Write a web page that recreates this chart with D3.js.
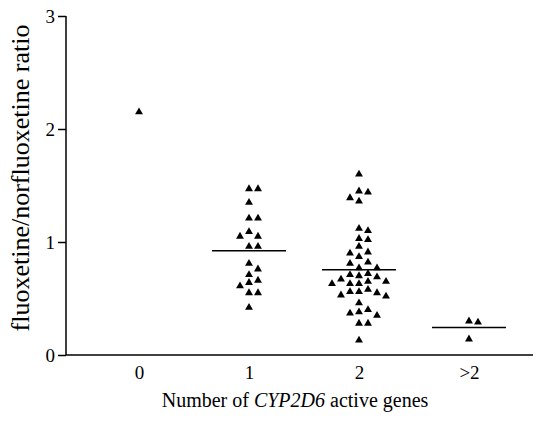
<!DOCTYPE html>
<html lang="en">
<head>
    <meta charset="utf-8">
    <title>Fluoxetine ratio by CYP2D6 genes</title>
    <style>
        body { margin: 0; background: #fff; }
        svg text { font-family: "Liberation Serif", "Times New Roman", serif; fill: #000; }
    </style>
</head>
<body>
    <div id="container"></div>

    <script src="https://cdn.jsdelivr.net/npm/d3@7"></script>
    <script>
        // Categories and values
        const categories = ["0", "1", "2", ">2"];
        const group0 = [2.15];
        const group1 = [1.47, 1.47, 1.35, 1.21, 1.21, 1.09, 1.05, 1.05, 0.96, 0.96,
                        0.81, 0.76, 0.71, 0.66, 0.64, 0.61, 0.55, 0.55, 0.42];
        const group2 = [1.60, 1.45, 1.44, 1.39, 1.36, 1.12, 1.10, 1.03, 1.02, 0.96,
                        0.91, 0.90, 0.87, 0.82, 0.81, 0.77, 0.77, 0.72, 0.71, 0.70,
                        0.69, 0.67, 0.65, 0.65, 0.63, 0.63, 0.63, 0.58, 0.56, 0.56,
                        0.55, 0.53, 0.52, 0.46, 0.40, 0.38, 0.37, 0.35, 0.28, 0.28, 0.13];
        const group3 = [0.30, 0.29, 0.14];
        const yTicks = [0, 1, 2, 3];

        const groups = [group0, group1, group2, group3];

        const width = 538;
        const height = 422;
        const axisLeft = 66;
        const axisRight = 533;
        const yTop = 16;
        const yBottom = 355;

        const svg = d3.select("#container").append("svg")
            .attr("width", width)
            .attr("height", height);

        const x = d3.scalePoint()
            .domain(categories)
            .range([139, 469]);

        const y = d3.scaleLinear()
            .domain([0, 3])
            .range([yBottom, yTop]);

        // y axis
        const yAxis = svg.append("g")
            .attr("transform", `translate(${axisLeft},0)`)
            .call(d3.axisLeft(y).tickValues(yTicks).tickFormat(d3.format("d")).tickSize(8).tickPadding(3))
            .attr("font-family", null)
            .attr("font-size", 19);
        yAxis.select(".domain").attr("d", `M0,${yTop}V${yBottom}`).attr("stroke-width", 1.5);
        yAxis.selectAll(".tick line").attr("stroke-width", 1.5);

        // x axis: a plain line with category labels, no ticks
        const xAxis = svg.append("g")
            .attr("transform", `translate(0,${yBottom})`)
            .call(d3.axisBottom(x).tickSize(0).tickPadding(11))
            .attr("font-family", null)
            .attr("font-size", 19);
        xAxis.select(".domain").attr("d", `M${axisLeft},0H${axisRight}`).attr("stroke-width", 1.5);

        // axis titles
        svg.append("text")
            .attr("transform", "rotate(-90)")
            .attr("x", -178)
            .attr("y", 29)
            .attr("text-anchor", "middle")
            .attr("font-size", 26)
            .text("fluoxetine/norfluoxetine ratio");

        const xTitle = svg.append("text")
            .attr("x", 295)
            .attr("y", 407)
            .attr("text-anchor", "middle")
            .attr("font-size", 20);
        xTitle.append("tspan").text("Number of ");
        xTitle.append("tspan").attr("font-style", "italic").text("CYP2D6");
        xTitle.append("tspan").text(" active genes");

        // simple dodge so overlapping triangles spread sideways
        const colStep = 9;
        const minGap = 7;
        const order = [0, 1, -1, 2, -2, 3, -3, 4, -4];

        function dodge(values) {
            const placed = [];
            values.slice().sort((a, b) => b - a).forEach(v => {
                const py = y(v);
                const col = order.find(c => !placed.some(p => p.col === c && Math.abs(p.py - py) < minGap));
                placed.push({ v, py, col });
            });
            return placed;
        }

        const triangle = d3.symbol().type(d3.symbolTriangle).size(27);

        groups.forEach((vals, i) => {
            const cx = x(categories[i]);
            const pts = dodge(vals);

            svg.append("g")
                .selectAll("path")
                .data(pts)
                .enter().append("path")
                .attr("d", triangle)
                .attr("transform", d => `translate(${cx + d.col * colStep},${d.py})`)
                .attr("fill", "#000");

            // mean line
            if (vals.length > 1) {
                const m = d3.mean(vals);
                svg.append("line")
                    .attr("x1", cx - 37)
                    .attr("x2", cx + 37)
                    .attr("y1", y(m))
                    .attr("y2", y(m))
                    .attr("stroke", "#000")
                    .attr("stroke-width", 1.5);
            }
        });
    </script>
</body>
</html>
